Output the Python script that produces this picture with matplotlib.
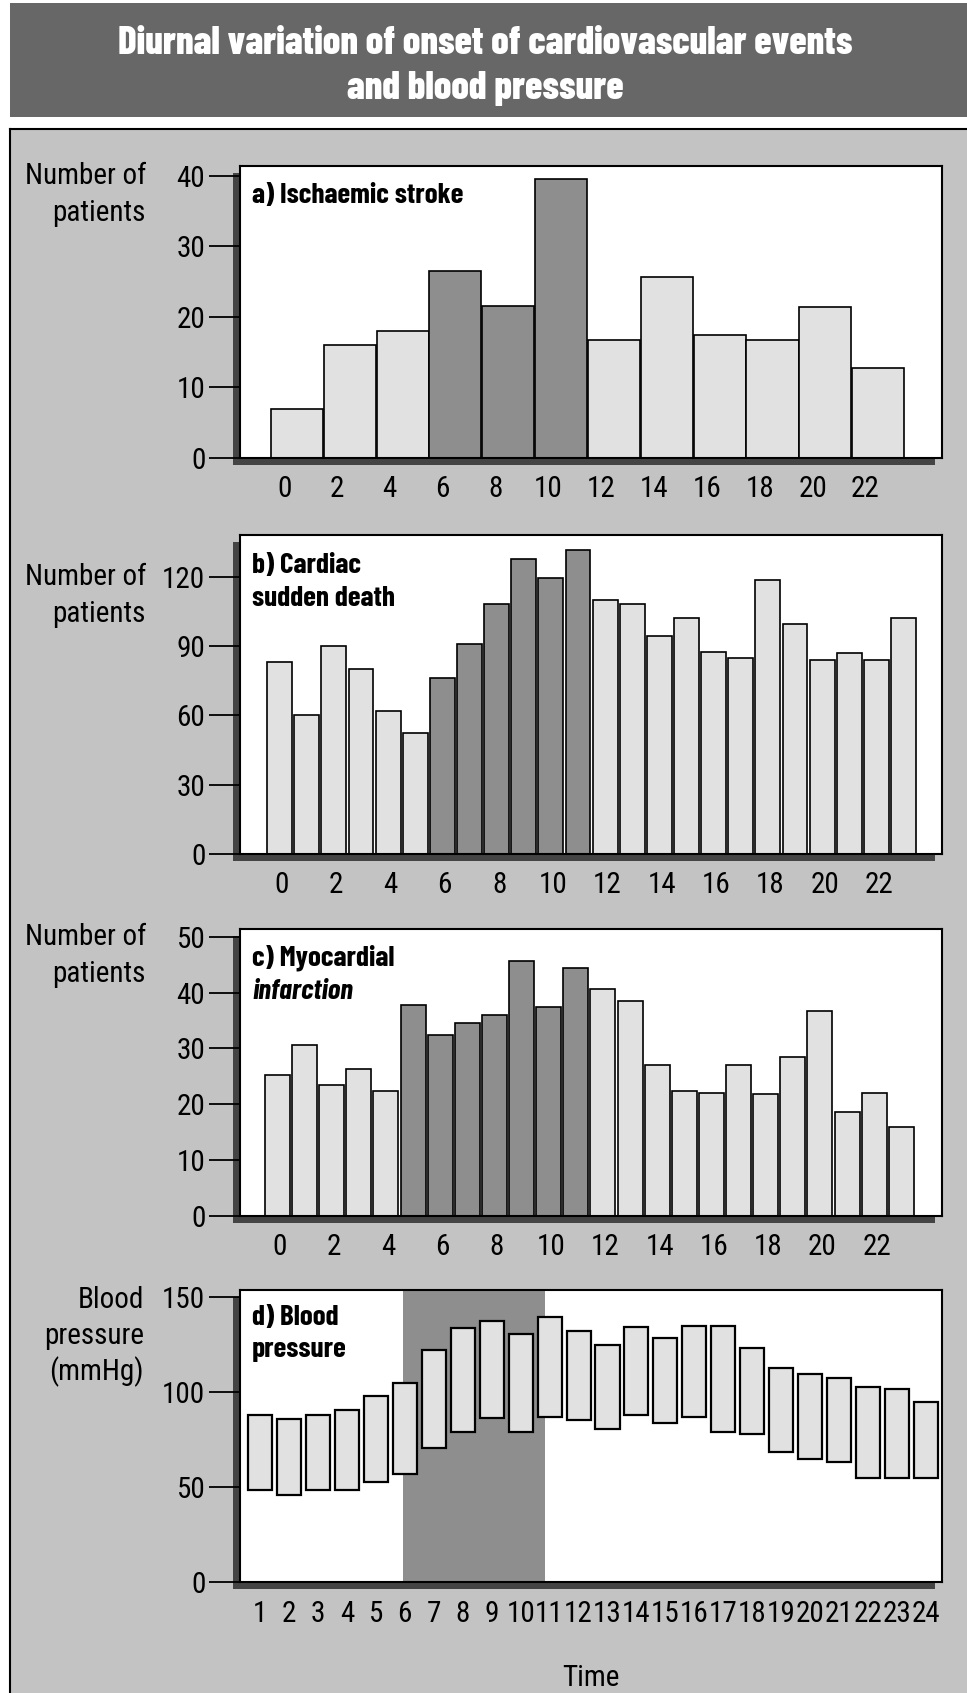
import matplotlib.pyplot as plt
from matplotlib import font_manager
from matplotlib.patches import Rectangle
from matplotlib.lines import Line2D
import matplotlib.transforms as mtransforms

# --- data ---
# a) ischaemic stroke, 2-hour bins
stroke_hours = [0, 2, 4, 6, 8, 10, 12, 14, 16, 18, 20, 22]
stroke_counts = [7, 16, 18, 26.5, 21.5, 39.5, 16.7, 25.6, 17.4, 16.7, 21.4, 12.7]
stroke_peak = [6, 8, 10]

# b) cardiac sudden death, 1-hour bins
hours = list(range(24))
sudden_death = [83, 60, 90, 80, 62, 52.5, 76, 91, 108, 127.5, 119.5, 131.5,
                110, 108, 94.5, 102, 87.5, 85, 118.5, 99.5, 84, 87, 84, 102]
sudden_peak = [6, 7, 8, 9, 10, 11]

# c) myocardial infarction, 1-hour bins
infarction = [25.2, 30.7, 23.5, 26.3, 22.3, 37.7, 32.4, 34.5, 36, 45.7, 37.5, 44.5,
              40.6, 38.5, 27, 22.4, 22, 27.1, 21.8, 28.5, 36.7, 18.7, 22, 16]
infarction_peak = [5, 6, 7, 8, 9, 10, 11]

# d) blood pressure range per hour
bp_hours = list(range(1, 25))
bp_high = [88, 86, 88, 90.5, 98, 104.5, 122, 133.5, 137.5, 130.5, 139.5, 132,
           125, 134, 128.5, 134.5, 135, 123, 112.5, 109.5, 107.5, 102.5, 101.5, 94.5]
bp_low = [48.5, 46, 48.5, 48.5, 52.5, 57, 70.5, 79, 86.5, 79, 87, 85.5,
          80.5, 88, 83.5, 86.8, 79, 78, 68.5, 64.5, 63, 54.5, 54.5, 54.8]
bp_peak_start, bp_peak_end = 5.95, 10.85

even_ticks = list(range(0, 24, 2))

# condensed fonts (fall back to DejaVu if not there)
available = {f.name for f in font_manager.fontManager.ttflist}


def pick(cands):
    for c in cands:
        if c in available:
            return c
    return 'DejaVu Sans'


REG = pick(['Roboto Condensed', 'Archivo Narrow', 'Barlow Condensed', 'Liberation Sans Narrow'])
BOLD = pick(['Barlow Condensed', 'Roboto Condensed', 'Liberation Sans Narrow'])
plt.rcParams['font.family'] = [REG, 'DejaVu Sans']

W, H = 967, 1693
fig = plt.figure(figsize=(W / 100, H / 100), dpi=100, facecolor='white')

LIGHT = '#e1e1e1'
DARK = '#8e8e8e'
BACK = '#c3c3c3'
FS = 21


def fx(px):
    return px / W


def fy(py):
    return 1 - py / H


# title band and the grey panel box
fig.add_artist(Rectangle((fx(10), fy(117)), 1 - fx(10), 114 / H, transform=fig.transFigure,
                         facecolor='#676767', edgecolor='none', zorder=-5))
fig.add_artist(Rectangle((fx(10), 0), 1 - fx(10), fy(129), transform=fig.transFigure,
                         facecolor=BACK, edgecolor='none', zorder=-5))
fig.add_artist(Line2D([fx(10), fx(10)], [0, fy(129)], transform=fig.transFigure, color='black', lw=1.5))
fig.add_artist(Line2D([fx(10), 1], [fy(129), fy(129)], transform=fig.transFigure, color='black', lw=1.5))

for txt, py in [('Diurnal variation of onset of cardiovascular events', 43), ('and blood pressure', 88)]:
    fig.text(fx(485), fy(py), txt, ha='center', va='center', color='white',
             fontsize=28, fontweight='heavy', family=[BOLD, 'DejaVu Sans'])


def make_axes(top, bottom, left=240, right=942):
    ax = fig.add_axes([fx(left), fy(bottom), (right - left) / W, (bottom - top) / H])
    pos = ax.get_position()
    # drop shadow on the left and bottom
    fig.add_artist(Rectangle((pos.x0 - 7 / W, pos.y0 - 7 / H), pos.width, pos.height,
                             transform=fig.transFigure, facecolor='#444444',
                             edgecolor='none', zorder=-1))
    ax.set_facecolor('white')
    for s in ax.spines.values():
        s.set_linewidth(1.5)
        s.set_color('black')
    ax.tick_params(axis='y', direction='out', length=22, width=1.3, pad=3, labelsize=FS)
    ax.tick_params(axis='x', length=0, pad=12, labelsize=FS)
    return ax


def side_label(lines, right_px, first_py, step=37):
    for i, line in enumerate(lines):
        fig.text(fx(right_px), fy(first_py + i * step), line, ha='right', va='center', fontsize=FS)


def panel_label(ax, lines, styles, first_off=29, step=33):
    for i, (line, st) in enumerate(zip(lines, styles)):
        tr = mtransforms.offset_copy(ax.transAxes, fig, x=12, y=-(first_off + i * step), units='dots')
        ax.text(0, 1, line, transform=tr, ha='left', va='center', fontsize=21,
                fontweight='bold', fontstyle=st, family=[BOLD, 'DejaVu Sans'])


# a) ischaemic stroke
ax = make_axes(166, 458)
cols = [DARK if h in stroke_peak else LIGHT for h in stroke_hours]
ax.bar(stroke_hours, stroke_counts, width=1.97, align='edge', color=cols, edgecolor='black', linewidth=1.2)
ax.set_xlim(-1.17, 25.4)
ax.set_ylim(0, 41.4)
ax.set_yticks([0, 10, 20, 30, 40])
ax.set_xticks([h + 0.5 for h in stroke_hours])
ax.set_xticklabels([str(h) for h in stroke_hours])
panel_label(ax, ['a) Ischaemic stroke'], ['normal'])
side_label(['Number of', 'patients'], 146, 176)

# b) cardiac sudden death
ax = make_axes(535, 854)
cols = [DARK if h in sudden_peak else LIGHT for h in hours]
ax.bar(hours, sudden_death, width=0.92, align='edge', color=cols, edgecolor='black', linewidth=1.2)
ax.set_xlim(-1.0, 24.88)
ax.set_ylim(0, 138)
ax.set_yticks([0, 30, 60, 90, 120])
ax.set_xticks([h + 0.55 for h in even_ticks])
ax.set_xticklabels([str(h) for h in even_ticks])
panel_label(ax, ['b) Cardiac', 'sudden death'], ['normal', 'normal'], first_off=30)
side_label(['Number of', 'patients'], 146, 577)

# c) myocardial infarction
ax = make_axes(929, 1216)
cols = [DARK if h in infarction_peak else LIGHT for h in hours]
ax.bar(hours, infarction, width=0.92, align='edge', color=cols, edgecolor='black', linewidth=1.2)
ax.set_xlim(-0.92, 24.96)
ax.set_ylim(0, 51.4)
ax.set_yticks([0, 10, 20, 30, 40, 50])
ax.set_xticks([h + 0.55 for h in even_ticks])
ax.set_xticklabels([str(h) for h in even_ticks])
panel_label(ax, ['c) Myocardial', 'infarction'], ['normal', 'italic'])
side_label(['Number of', 'patients'], 146, 937)

# d) blood pressure
ax = make_axes(1290, 1582)
ax.axvspan(bp_peak_start, bp_peak_end, color=DARK, zorder=0.5, lw=0)
spans = [hi - lo for hi, lo in zip(bp_high, bp_low)]
ax.bar(bp_hours, spans, bottom=bp_low, width=0.83, color=LIGHT, edgecolor='black', linewidth=1.6, zorder=2)
ax.set_xlim(0.31, 24.55)
ax.set_ylim(0, 153.7)
ax.set_yticks([0, 50, 100, 150])
ax.set_xticks(bp_hours)
ax.set_xticklabels([str(h) for h in bp_hours])
ax.tick_params(axis='x', pad=13)
ax.set_xlabel('Time', fontsize=FS, labelpad=26)
panel_label(ax, ['d) Blood', 'pressure'], ['normal', 'normal'], first_off=27)
side_label(['Blood', 'pressure', '(mmHg)'], 144, 1300, step=36)

fig.savefig('out.png', dpi=100, facecolor=fig.get_facecolor())
